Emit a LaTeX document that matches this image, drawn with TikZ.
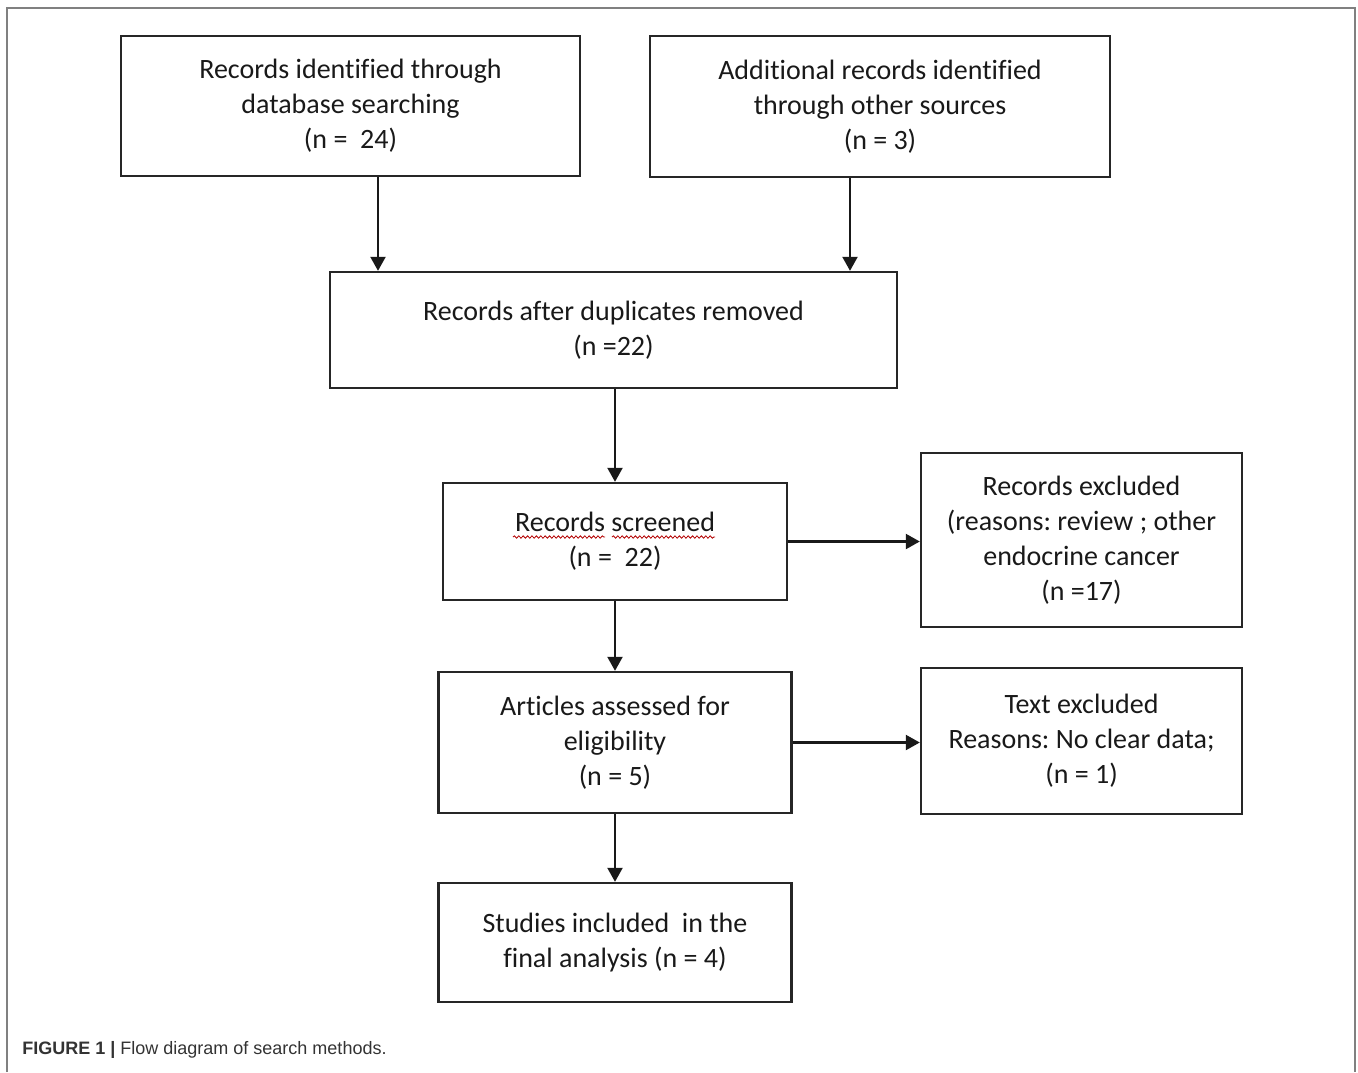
\documentclass[tikz,border=0pt]{standalone}
\usepackage{fontspec}
\setmainfont{Carlito}[Ligatures=NoCommon]
\newfontfamily\capfont{Liberation Sans}
\usetikzlibrary{arrows.meta,decorations.pathmorphing}
\frenchspacing

\begin{document}
\begin{tikzpicture}[x=0.5pt,y=-0.5pt,
  box/.style={draw=black!85,line width=1.2pt,align=center,inner sep=0pt,
    text=black!90,font=\fontsize{14}{17.5}\selectfont},
  arr/.style={-{Triangle[width=7.5pt,length=7pt]},line width=1.1pt,draw=black!90},
  squiggle/.style={red!70!black,line width=0.4pt,decorate,
    decoration={snake,amplitude=0.6pt,segment length=2.2pt}}]
  \useasboundingbox (0,0) rectangle (1358,1072);
  \draw[black!50,line width=1pt] (7,1072) -- (7,8) -- (1355,8) -- (1355,1072);
  % identification
  \node[box,minimum width=229.5pt,minimum height=70pt] (dbrec) at (350.5,106)
    {Records identified through\\database searching\\(n =\ \ 24)};
  \node[box,minimum width=230pt,minimum height=70.5pt] (otherrec) at (880,106.5)
    {Additional records identified\\through other sources\\(n = 3)};
  \node[box,minimum width=283.5pt,minimum height=58pt] (nodup) at (613.5,330)
    {Records after duplicates removed\\(n =22)};
  % screening
  \node[box,minimum width=172pt,minimum height=58.5pt] (screen) at (615,541.5)
    {Records screened\\(n =\ \ 22)};
  \node[box,minimum width=160.5pt,minimum height=87pt] (screenex) at (1081.5,540)
    {Records excluded\\(reasons: review ; other\\endocrine cancer\\(n =17)};
  % eligibility
  \node[box,minimum width=176.5pt,minimum height=70.5pt] (elig) at (615,742.5)
    {Articles assessed for\\eligibility\\(n = 5)};
  \node[box,minimum width=160.5pt,minimum height=73pt] (eligex) at (1081.5,741)
    {Text excluded\\Reasons: No clear data;\\(n = 1)};
  % included
  \node[box,minimum width=176.5pt,minimum height=59.5pt] (incl) at (615,942.5)
    {Studies included\ \ in the\\final analysis (n = 4)};
  \draw[squiggle] (513,537) -- (605,537);
  \draw[squiggle] (612,537) -- (715,537);
  \draw[arr] ([xshift=13.75pt]dbrec.south) -- ([xshift=13.75pt]dbrec.south |- nodup.north);
  \draw[arr] ([xshift=-15pt]otherrec.south) -- ([xshift=-15pt]otherrec.south |- nodup.north);
  \draw[arr] (nodup.south -| screen.north) -- (screen.north);
  \draw[arr] (screen.east) -- (screen.east -| screenex.west);
  \draw[arr] (screen.south) -- (elig.north);
  \draw[arr] (elig.east) -- (elig.east -| eligex.west);
  \draw[arr] (elig.south) -- (incl.north);
  \node[anchor=west,inner sep=0pt,text=black!80,font=\capfont\fontsize{9}{11}\selectfont]
    (caption) at (22,1050) {\textbf{FIGURE 1 |} Flow diagram of search methods.};
\end{tikzpicture}
\end{document}
